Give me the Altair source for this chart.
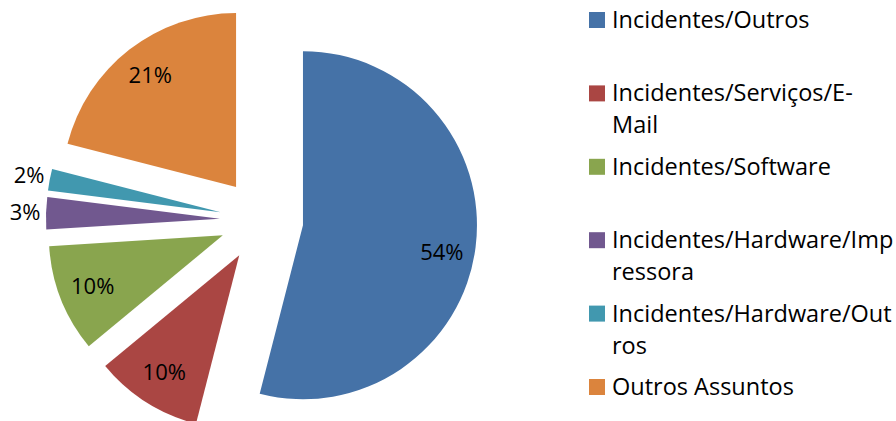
import math
import altair as alt
import pandas as pd

categorias = [
    "Incidentes/Outros",
    "Incidentes/Serviços/E-Mail",
    "Incidentes/Software",
    "Incidentes/Hardware/Impressora",
    "Incidentes/Hardware/Outros",
    "Outros Assuntos",
]
percentuais = [54, 10, 10, 3, 2, 21]
legenda_texto = [
    "Incidentes/Outros",
    "Incidentes/Serviços/E-\nMail",
    "Incidentes/Software",
    "Incidentes/Hardware/Imp\nressora",
    "Incidentes/Hardware/Out\nros",
    "Outros Assuntos",
]
cores = ["#4572A7", "#AA4643", "#89A54E", "#71588F", "#4198AF", "#DB843D"]

df = pd.DataFrame({
    "categoria": categorias,
    "pct": percentuais,
    "ordem": list(range(len(categorias))),
    "legenda": legenda_texto,
})

CX, CY, EXPLODE, R = 261.6, 220.0, 41.7, 174

base = alt.Chart(df).transform_window(
    cum="sum(pct)", sort=[alt.SortField("ordem")], frame=[None, 0]
).transform_joinaggregate(
    total="sum(pct)"
).transform_calculate(
    a0="(datum.cum - datum.pct) / datum.total",
    a1="datum.cum / datum.total",
).transform_calculate(
    mid="(datum.a0 + datum.a1) * PI",
    rotulo="datum.pct + '%'",
).transform_calculate(
    px=f"{CX} + {EXPLODE} * sin(datum.mid)",
    py=f"{CY} - {EXPLODE} * cos(datum.mid)",
    lr="datum.pct < 5 ? 195 : 140",
    ldy="datum.pct > 50 ? 10 : 0",
    leg_y="20 + datum.ordem * 73.4",
).transform_calculate(
    lx="datum.px + datum.lr * sin(datum.mid)",
    ly="datum.py - datum.lr * cos(datum.mid) + datum.ldy",
)

cor = alt.Color("categoria:N", scale=alt.Scale(domain=categorias, range=cores), legend=None)

arcs = base.mark_arc(radius=R, strokeWidth=0).encode(
    x=alt.X("px:Q", scale=None, axis=None),
    y=alt.Y("py:Q", scale=None, axis=None),
    theta=alt.Theta("a0:Q", scale=alt.Scale(domain=[0, 1], range=[0, 2 * math.pi])),
    theta2="a1:Q",
    color=cor,
)

FONT = "Open Sans"

labels = base.mark_text(font=FONT, fontSize=22, color="#000000", baseline="middle", align="center").encode(
    x=alt.X("lx:Q", scale=None),
    y=alt.Y("ly:Q", scale=None),
    text="rotulo:N",
)

leg_sq = base.mark_square(size=256, opacity=1, strokeWidth=0).encode(
    x=alt.value(597),
    y=alt.Y("leg_y:Q", scale=None),
    color=cor,
)

leg_txt = base.mark_text(
    font=FONT, fontSize=23.5, color="#000000", align="left", baseline="alphabetic",
    lineBreak="\n", lineHeight=32, dy=8,
).encode(
    x=alt.value(612),
    y=alt.Y("leg_y:Q", scale=None),
    text="legenda:N",
)

chart = alt.layer(arcs, labels, leg_sq, leg_txt).properties(
    width=896, height=421, padding=0, autosize="none", background="white"
).configure_view(stroke=None)

chart.save("out.html", embed_options={"renderer": "svg", "actions": False})
